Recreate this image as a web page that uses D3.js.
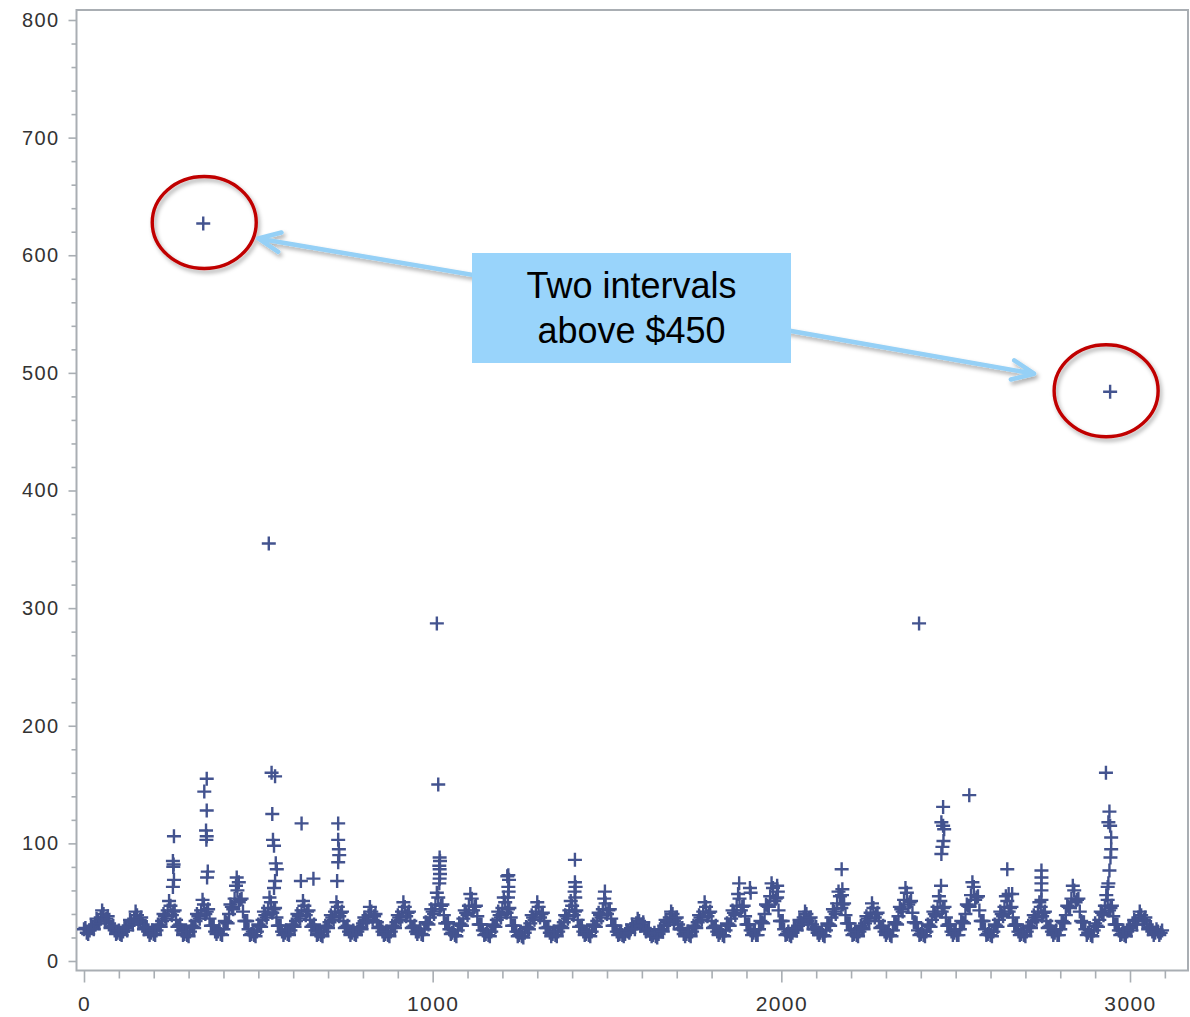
<!DOCTYPE html>
<html>
<head>
<meta charset="utf-8">
<script src="https://cdn.jsdelivr.net/npm/d3@7"></script>
<style>
  body { margin: 0; background: #fff; }
  svg { display: block; }
</style>
</head>
<body>
<svg id="chart" width="1190" height="1017"></svg>
<script>
// Interval cost readings every 8 intervals (interval index = position * sampleStep)
const sampleStep = 8;
const intervalCost = [
  27, 24, 26, 28, 31, 34, 37, 40, 36, 32, 29, 26,
  24, 23, 25, 28, 30, 33, 36, 39, 35, 31, 28, 25,
  24, 23, 26, 30, 34, 38, 43, 47, 42, 35, 30, 26,
  23, 22, 25, 29, 34, 38, 43, 48, 42, 36, 30, 25,
  25, 23, 27, 33, 40, 46, 53, 60, 52, 42, 34, 27,
  23, 22, 25, 30, 35, 39, 45, 50, 44, 37, 30, 25,
  24, 23, 26, 30, 34, 38, 43, 47, 42, 35, 30, 26,
  23, 22, 25, 29, 33, 37, 42, 46, 41, 34, 29, 25,
  24, 23, 25, 28, 32, 35, 39, 42, 38, 33, 29, 25,
  23, 22, 25, 29, 33, 37, 42, 46, 41, 34, 29, 25,
  25, 23, 27, 32, 37, 42, 48, 54, 47, 39, 32, 27,
  24, 22, 26, 31, 36, 41, 47, 53, 46, 38, 31, 26,
  23, 22, 25, 30, 35, 39, 45, 50, 44, 37, 30, 25,
  22, 21, 24, 28, 32, 37, 42, 46, 40, 34, 28, 24,
  23, 22, 25, 29, 33, 38, 43, 47, 42, 35, 29, 25,
  23, 22, 25, 30, 34, 39, 44, 49, 43, 36, 30, 25,
  23, 22, 23, 25, 27, 29, 32, 34, 31, 28, 26, 23,
  22, 21, 23, 26, 30, 33, 37, 40, 36, 31, 27, 23,
  23, 22, 25, 29, 33, 37, 42, 46, 41, 34, 29, 25,
  24, 22, 26, 31, 36, 41, 47, 53, 46, 38, 31, 26,
  24, 22, 27, 33, 40, 47, 55, 62, 53, 43, 34, 27,
  23, 22, 24, 27, 30, 33, 37, 40, 36, 31, 27, 24,
  24, 22, 26, 31, 37, 42, 49, 55, 48, 39, 32, 26,
  23, 22, 25, 28, 32, 36, 41, 45, 40, 34, 29, 25,
  24, 22, 26, 32, 38, 44, 52, 58, 50, 41, 33, 26,
  23, 22, 25, 30, 35, 40, 46, 51, 45, 37, 31, 25,
  24, 22, 27, 33, 40, 47, 56, 63, 54, 43, 34, 27,
  23, 22, 25, 30, 35, 40, 46, 51, 45, 37, 31, 25,
  23, 22, 25, 29, 33, 37, 42, 46, 41, 34, 29, 25,
  24, 22, 27, 33, 39, 46, 53, 60, 52, 42, 33, 27,
  24, 22, 26, 30, 35, 41, 47, 52, 45, 38, 31, 26,
  23, 22, 25, 28, 31, 34, 37, 39, 35, 31, 28, 25,
  24, 25, 24
];

// The readings taken half-way between those above (interval index = position * sampleStep + 4)
const intervalCostMid = [
  28, 23, 30, 27, 36, 32, 43, 34, 38, 28, 30, 23,
  26, 22, 29, 26, 35, 31, 42, 33, 37, 27, 29, 22,
  26, 22, 31, 29, 40, 36, 51, 39, 43, 29, 31, 22,
  25, 21, 30, 28, 40, 36, 52, 40, 44, 30, 30, 23,
  27, 22, 34, 32, 48, 44, 64, 50, 53, 34, 34, 22,
  25, 21, 31, 29, 42, 37, 54, 41, 45, 30, 30, 22,
  26, 22, 31, 29, 40, 36, 51, 39, 43, 29, 31, 22,
  25, 21, 30, 28, 39, 35, 50, 38, 42, 28, 30, 22,
  26, 22, 29, 27, 37, 33, 46, 35, 40, 28, 29, 22,
  25, 21, 30, 28, 39, 35, 50, 38, 42, 28, 30, 23,
  27, 22, 33, 31, 44, 40, 58, 44, 48, 32, 33, 23,
  26, 21, 32, 30, 43, 39, 57, 43, 47, 31, 31, 22,
  25, 21, 31, 29, 42, 37, 54, 41, 45, 30, 30, 21,
  24, 20, 29, 27, 39, 35, 50, 37, 41, 28, 29, 21,
  25, 21, 30, 28, 39, 36, 51, 39, 43, 29, 30, 22,
  25, 21, 31, 29, 41, 37, 53, 40, 44, 30, 30, 22,
  25, 21, 26, 24, 31, 27, 36, 30, 33, 25, 27, 21,
  24, 20, 27, 25, 35, 31, 42, 34, 37, 27, 28, 21,
  25, 21, 30, 28, 39, 35, 50, 38, 42, 28, 30, 22,
  26, 21, 32, 30, 43, 39, 57, 43, 47, 31, 31, 22,
  26, 22, 34, 32, 48, 46, 66, 51, 54, 34, 34, 22,
  25, 21, 28, 26, 35, 31, 42, 34, 37, 27, 29, 22,
  26, 21, 32, 30, 44, 40, 59, 45, 49, 32, 32, 22,
  25, 21, 30, 27, 38, 34, 49, 37, 41, 28, 30, 22,
  26, 21, 33, 31, 46, 42, 62, 48, 51, 33, 32, 22,
  25, 21, 31, 29, 42, 38, 55, 42, 46, 30, 31, 22,
  26, 22, 34, 32, 48, 46, 67, 52, 55, 34, 34, 22,
  25, 21, 31, 29, 42, 38, 55, 42, 46, 30, 31, 22,
  25, 21, 30, 28, 39, 35, 50, 38, 42, 28, 30, 22,
  26, 22, 34, 32, 47, 45, 64, 50, 53, 34, 33, 22,
  26, 21, 32, 29, 42, 39, 56, 43, 47, 31, 31, 22,
  25, 21, 29, 26, 35, 31, 42, 34, 37, 27, 29, 22,
  27, 22, 26
];

// High-cost intervals that sit above the daily pattern
const spikeIntervals = [
  258, 255, 257, 256, 258, 255,
  352, 345, 352, 350, 352, 351, 355, 353,
  438, 444,
  530, 538, 548, 540, 542, 545, 550, 553, 548, 545,
  622, 624, 658,
  729, 729, 731, 732, 729, 726,
  342,
  1012, 1016, 1020, 1021, 1019, 1020, 1021, 1020, 1019,
  1217, 1214, 1219, 1217, 1218, 1216,
  1408, 1408, 1410, 1407, 1409, 1494,
  1879, 1910, 1912, 1988, 1990,
  2173, 2175, 2174,
  2395,
  2464, 2459, 2464, 2467, 2465, 2462, 2459, 2458,
  2539, 2648, 2652, 2662,
  2746, 2746, 2746, 2746, 2746,
  2931, 2943, 2941, 2938, 2943, 2946, 2946, 2944, 2941, 2938, 2936
];
const spikeCosts = [
  106, 85, 82, 80, 69, 63,
  155, 144, 128, 111, 106, 103, 76, 71,
  71, 67,
  355, 160, 157, 125, 103, 98, 83, 78, 68, 62,
  68, 117, 70,
  117, 103, 95, 90, 84, 68,
  627,
  287, 150, 88, 85, 81, 78, 74, 70, 66,
  73, 72, 69, 63, 59, 54,
  86, 67, 63, 59, 54, 59,
  66, 62, 58, 64, 59,
  78, 61, 56,
  287,
  131, 118, 115, 112, 102, 97, 91, 64,
  141, 78, 57, 57,
  77, 71, 66, 60, 52,
  160, 484, 127, 118, 115, 105, 95, 88, 77, 66, 63
];

const xMajorTicks = [0, 1000, 2000, 3000];
const xMinorTicks = d3.range(100, 3200, 100).filter(v => v % 1000 !== 0);
const yMajorTicks = [0, 100, 200, 300, 400, 500, 600, 700, 800];
const yMinorTicks = d3.range(20, 800, 20).filter(v => v % 100 !== 0);
const calloutLines = ["Two intervals", "above $450"];
const circledIntervals = [342, 2943];
const circledCosts = [627, 484];

const svg = d3.select("#chart");
const frame = { left: 76.5, right: 1188, top: 10, bottom: 970.5 };

const x = d3.scaleLinear().domain([0, 3000]).range([84, 1130]);
const y = d3.scaleLinear().domain([0, 800]).range([961, 20]);

const axisColor = "#a9aeb3";
const labelColor = "#333";
const markColor = "#43538f";

const defs = svg.append("defs");
const shadow = defs.append("filter").attr("id", "shadow")
  .attr("x", "-20%").attr("y", "-20%").attr("width", "140%").attr("height", "150%");
shadow.append("feDropShadow").attr("dx", 2).attr("dy", 3)
  .attr("stdDeviation", 2.2).attr("flood-color", "#000").attr("flood-opacity", 0.33);

// Plot frame
svg.append("rect")
  .attr("x", frame.left).attr("y", frame.top)
  .attr("width", frame.right - frame.left).attr("height", frame.bottom - frame.top)
  .attr("fill", "none").attr("stroke", axisColor).attr("stroke-width", 2);

// Axes
function styleAxis(g) {
  g.select(".domain").remove();
  g.selectAll(".tick line").attr("stroke", axisColor).attr("stroke-width", 1.6);
  g.selectAll(".tick text")
    .attr("fill", labelColor)
    .style("font-family", "'Liberation Sans', Arial, sans-serif")
    .style("font-size", "20px")
    .style("letter-spacing", "1.4px");
}

svg.append("g").attr("transform", `translate(${frame.left},0)`)
  .call(d3.axisLeft(y).tickValues(yMinorTicks).tickSize(5).tickFormat(""))
  .call(styleAxis);
svg.append("g").attr("transform", `translate(${frame.left},0)`)
  .call(d3.axisLeft(y).tickValues(yMajorTicks).tickSize(8).tickPadding(9).tickFormat(d3.format("d")))
  .call(styleAxis);

svg.append("g").attr("transform", `translate(0,${frame.bottom})`)
  .call(d3.axisBottom(x).tickValues(xMinorTicks).tickSize(8).tickFormat(""))
  .call(styleAxis);
svg.append("g").attr("transform", `translate(0,${frame.bottom})`)
  .call(d3.axisBottom(x).tickValues(xMajorTicks).tickSize(12).tickPadding(14).tickFormat(d3.format("d")))
  .call(styleAxis)
  .call(g => g.selectAll(".tick text").style("font-size", "21px"));

// Plus markers
const plus = "M-7,0H7M0,-7V7";
const points = intervalCost.map((v, i) => ({ t: i * sampleStep, v }))
  .concat(intervalCostMid.map((v, i) => ({ t: i * sampleStep + 4, v })))
  .concat(spikeIntervals.map((t, i) => ({ t, v: spikeCosts[i] })));

svg.append("g").selectAll("path.pt").data(points).join("path")
  .attr("class", "pt")
  .attr("d", plus)
  .attr("transform", d => `translate(${x(d.t)},${y(d.v)})`)
  .attr("fill", "none")
  .attr("stroke", markColor)
  .attr("stroke-width", 2.4);

// Callout: circled intervals
const ellipseShift = [1, -4];
const annot = svg.append("g");
annot.selectAll("ellipse").data(circledIntervals).join("ellipse")
  .attr("cx", (d, i) => x(d) + ellipseShift[i])
  .attr("cy", (d, i) => y(circledCosts[i]) - 1)
  .attr("rx", 52).attr("ry", 46)
  .attr("fill", "none")
  .attr("stroke", "#c00000")
  .attr("stroke-width", 3.4)
  .attr("filter", "url(#shadow)");

// Arrows from the label box to each circle
const arrowColor = "#95d0f6";
function arrow(x1, y1, x2, y2) {
  const a = Math.atan2(y1 - y2, x1 - x2);
  const len = 24, spread = 0.42;
  const p1 = [x2 + len * Math.cos(a - spread), y2 + len * Math.sin(a - spread)];
  const p2 = [x2 + len * Math.cos(a + spread), y2 + len * Math.sin(a + spread)];
  const g = annot.append("g").attr("filter", "url(#shadow)");
  g.append("path")
    .attr("d", `M${x1},${y1}L${x2},${y2}M${p1[0]},${p1[1]}L${x2},${y2}L${p2[0]},${p2[1]}`)
    .attr("fill", "none").attr("stroke", arrowColor)
    .attr("stroke-width", 4.5).attr("stroke-linecap", "round").attr("stroke-linejoin", "round");
}
const tipL = [x(circledIntervals[0]) + ellipseShift[0] + 54, y(circledCosts[0]) + 15];
const tipR = [x(circledIntervals[1]) + ellipseShift[1] - 72, y(circledCosts[1]) - 18];
arrow(520, 283, tipL[0], tipL[1]);
arrow(740, 322, tipR[0], tipR[1]);

// Label box
const box = { x: 472, y: 253, w: 319, h: 110 };
annot.append("rect")
  .attr("x", box.x).attr("y", box.y).attr("width", box.w).attr("height", box.h)
  .attr("fill", "#99d4fb");
annot.append("text")
  .attr("x", box.x + box.w / 2)
  .attr("text-anchor", "middle")
  .style("font-family", "'Liberation Sans', Arial, sans-serif")
  .style("font-size", "36px")
  .attr("fill", "#000")
  .selectAll("tspan").data(calloutLines).join("tspan")
  .attr("x", box.x + box.w / 2)
  .attr("y", (d, i) => 298 + i * 45)
  .text(d => d);
</script>
</body>
</html>
